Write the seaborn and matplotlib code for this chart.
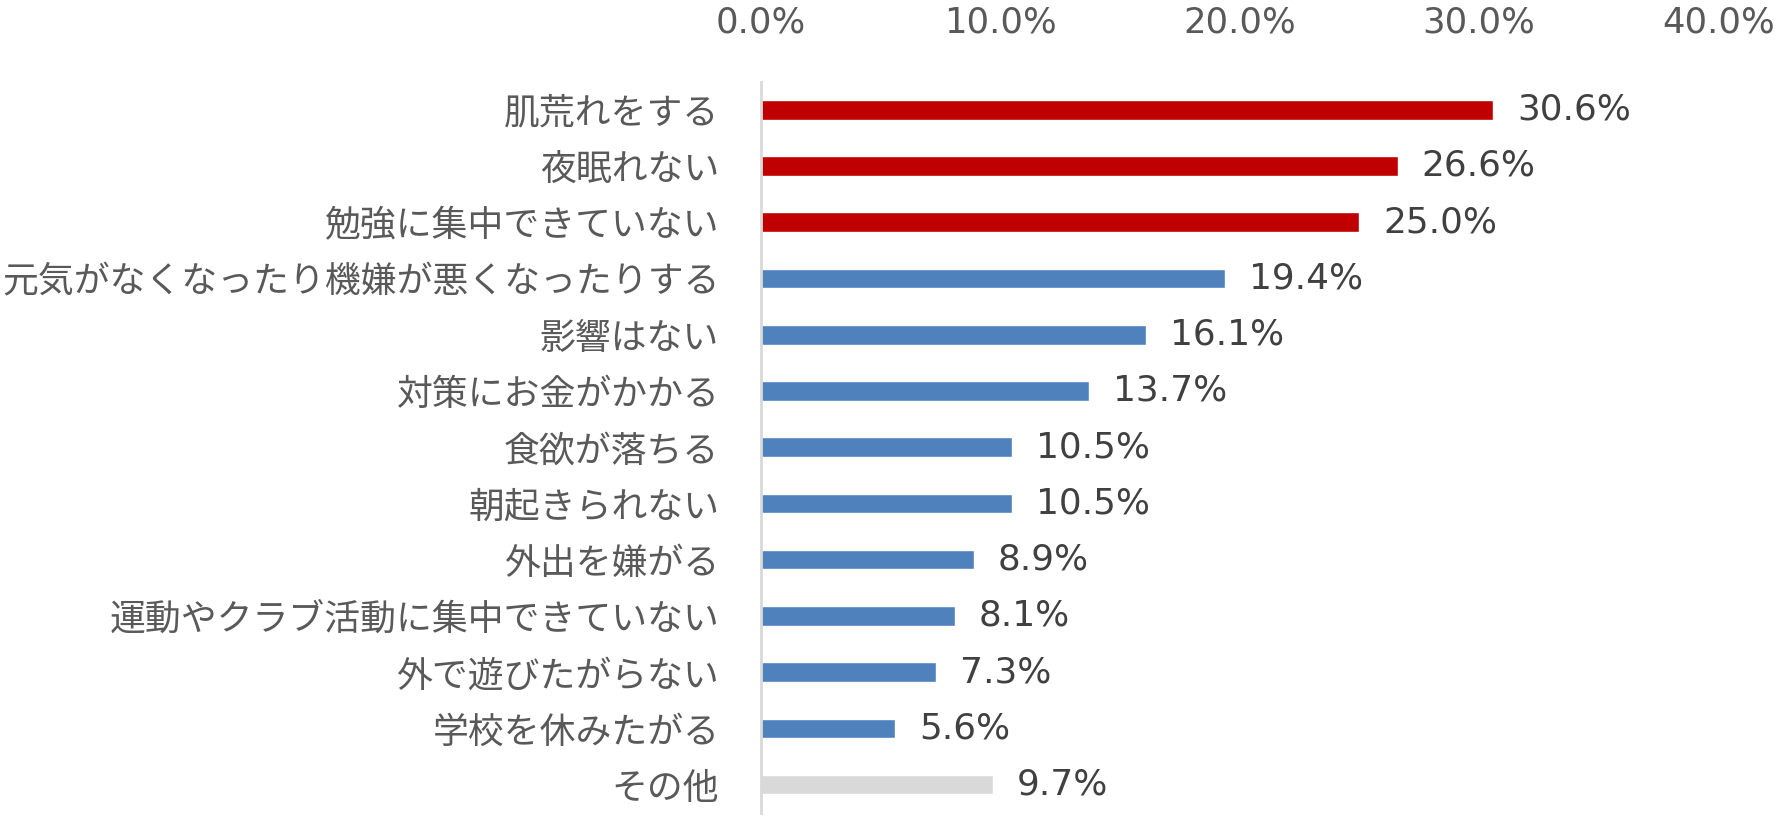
import matplotlib
matplotlib.use("Agg")
import matplotlib.pyplot as plt
import seaborn as sns
import pandas as pd
from matplotlib.ticker import FuncFormatter

categories = ["肌荒れをする", "夜眠れない", "勉強に集中できていない",
              "元気がなくなったり機嫌が悪くなったりする", "影響はない",
              "対策にお金がかかる", "食欲が落ちる", "朝起きられない",
              "外出を嫌がる", "運動やクラブ活動に集中できていない",
              "外で遊びたがらない", "学校を休みたがる", "その他"]
values = [30.6, 26.6, 25.0, 19.4, 16.1, 13.7, 10.5, 10.5, 8.9, 8.1, 7.3, 5.6, 9.7]
bar_colors = ["#C00000"] * 3 + ["#4F81BD"] * 9 + ["#D9D9D9"]
x_ticks = [0, 10, 20, 30, 40]

sns.set_theme(style="white")
plt.rcParams['font.family'] = ['Noto Sans CJK JP', 'DejaVu Sans']
num_font = ['DejaVu Sans']

df = pd.DataFrame({"cat": categories, "val": values})

fig = plt.figure(figsize=(17.79, 8.16), dpi=100)
ax = fig.add_axes([0.4278, 0.004, 0.538, 0.896])

sns.barplot(data=df, y="cat", x="val", hue="cat", palette=dict(zip(categories, bar_colors)),
            orient="h", width=0.35, legend=False, ax=ax, saturation=1)

for i, v in enumerate(values):
    ax.text(v + 1.0, i, f"{v:.1f}%", va="center", ha="left", fontsize=25.8,
            color="#404040", family=num_font)

ax.set_xlim(0, 40)
ax.set_ylim(12.5, -0.5)
ax.set_xticks(x_ticks)
ax.xaxis.set_major_formatter(FuncFormatter(lambda x, p: f"{x:.1f}%"))
ax.xaxis.tick_top()
ax.tick_params(axis="x", length=0, pad=30, labelsize=25.5, labelcolor="#595959")
for t in ax.get_xticklabels():
    t.set_family(num_font)
ax.tick_params(axis="y", length=0, pad=30, labelsize=25.8, labelcolor="#595959")
ax.set_xlabel("")
ax.set_ylabel("")
for s in ["top", "right", "bottom"]:
    ax.spines[s].set_visible(False)
ax.spines["left"].set_color("#D9D9D9")
ax.spines["left"].set_linewidth(2)
ax.grid(False)

fig.savefig("out.png", dpi=100)
